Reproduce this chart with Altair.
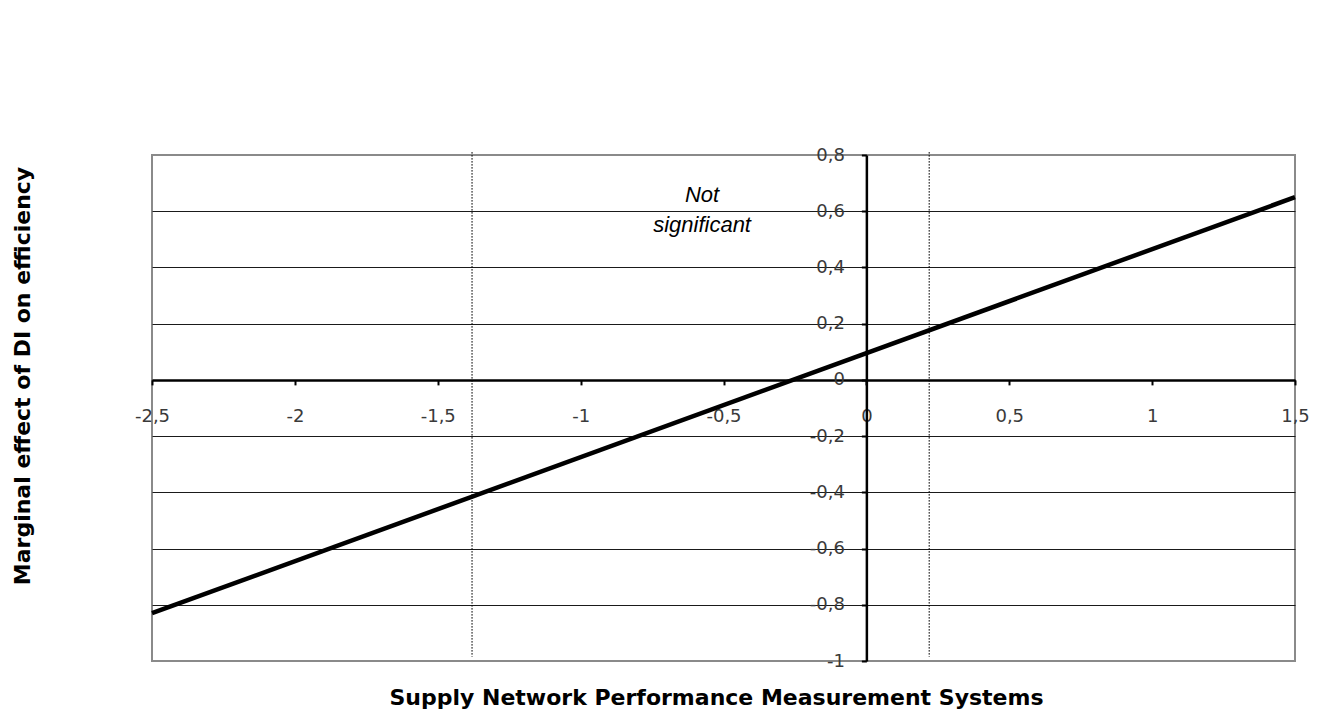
import altair as alt
import pandas as pd

# ---- data ----
line_x = [-2.5, 1.5]
line_y = [-0.83, 0.65]
sig_bounds = [-1.38, 0.22]
rule_top = 0.81
rule_bottom = -0.985
x_ticks = [-2.5, -2, -1.5, -1, -0.5, 0, 0.5, 1, 1.5]
y_ticks = [-1, -0.8, -0.6, -0.4, -0.2, 0, 0.2, 0.4, 0.6, 0.8]
note_lines = ["Not", "significant"]
note_x = [-0.575, -0.575]
note_y = [0.633, 0.526]
x_title = "Supply Network Performance Measurement Systems"
y_title = "Marginal effect of DI on efficiency"

W, H = 1143, 506
x_dom = [-2.5, 1.5]
y_dom = [-1, 0.8]
x0_px = W * (0 - x_dom[0]) / (x_dom[1] - x_dom[0])
y0_px = H * (y_dom[1] - 0) / (y_dom[1] - y_dom[0])

line_df = pd.DataFrame({"x": line_x, "y": line_y})
rule_df = pd.DataFrame({"x": sig_bounds, "y": [rule_top] * 2, "y2": [rule_bottom] * 2})
note_df = pd.DataFrame({"x": note_x, "y": note_y, "t": note_lines})

xs = alt.Scale(domain=x_dom, nice=False, zero=False)
ys = alt.Scale(domain=y_dom, nice=False, zero=False)

label_expr = "replace(toString(datum.value), '.', ',')"

x_axis = alt.Axis(
    values=x_ticks, orient="bottom", offset=-(H - y0_px), grid=False,
    labelExpr=label_expr, labelFont="DejaVu Sans", labelFontSize=18,
    labelColor="#3a3a3a", labelFlush=False, labelOverlap=False,
    labelBaseline="middle", labelPadding=32,
    tickColor="black", tickWidth=2, tickSize=5,
    domainColor="black", domainWidth=2.5,
    title=x_title, titleFont="DejaVu Sans", titleFontSize=22, titleFontWeight="bold",
    titleColor="black", titleX=564, titleY=325, titleBaseline="alphabetic",
    titleAlign="center",
)
y_axis = alt.Axis(
    values=y_ticks, orient="left", offset=-x0_px, grid=True,
    gridColor="#1a1a1a", gridWidth=1,
    gridOpacity={"condition": {"test": "datum.value >= 0.79 || datum.value <= -0.99", "value": 0}, "value": 1},
    labelExpr=label_expr, labelFont="DejaVu Sans", labelFontSize=18,
    labelColor="#3a3a3a", labelFlush=False, labelOverlap=False,
    labelBaseline="middle", labelPadding=17, labelAlign="right",
    tickColor="black", tickWidth=2, tickSize=5,
    domainColor="black", domainWidth=2.5,
    title=y_title, titleFont="DejaVu Sans", titleFontSize=22, titleFontWeight="bold",
    titleColor="black", titleX=29.5 - 152 - x0_px, titleY=220.5,
    titleAngle=270, titleBaseline="alphabetic", titleAlign="center",
)

X = lambda: alt.X("x:Q", scale=xs, axis=x_axis)
Y = lambda: alt.Y("y:Q", scale=ys, axis=y_axis)

rules = alt.Chart(rule_df).mark_rule(color="black", strokeWidth=1.3, strokeDash=[1.3, 1.7]).encode(
    x=X(), y=Y(), y2="y2:Q",
)

base_line = alt.Chart(line_df).mark_line(color="black", strokeWidth=4.5).encode(
    x=X(), y=Y(),
)

notes = alt.Chart(note_df).mark_text(
    font="Liberation Sans", fontSize=22, fontStyle="italic", color="black",
    align="center", baseline="alphabetic",
).encode(
    x=X(), y=Y(), text="t:N",
)

chart = alt.layer(rules, base_line, notes).properties(
    width=W, height=H,
    autosize=alt.AutoSizeParams(type="none"),
    padding={"left": 144, "top": 147, "right": 15, "bottom": 55},
    background="white",
).configure_view(stroke="#8a8a8a", strokeWidth=2)

chart.save("out.html", embed_options={"renderer": "svg", "actions": False})
